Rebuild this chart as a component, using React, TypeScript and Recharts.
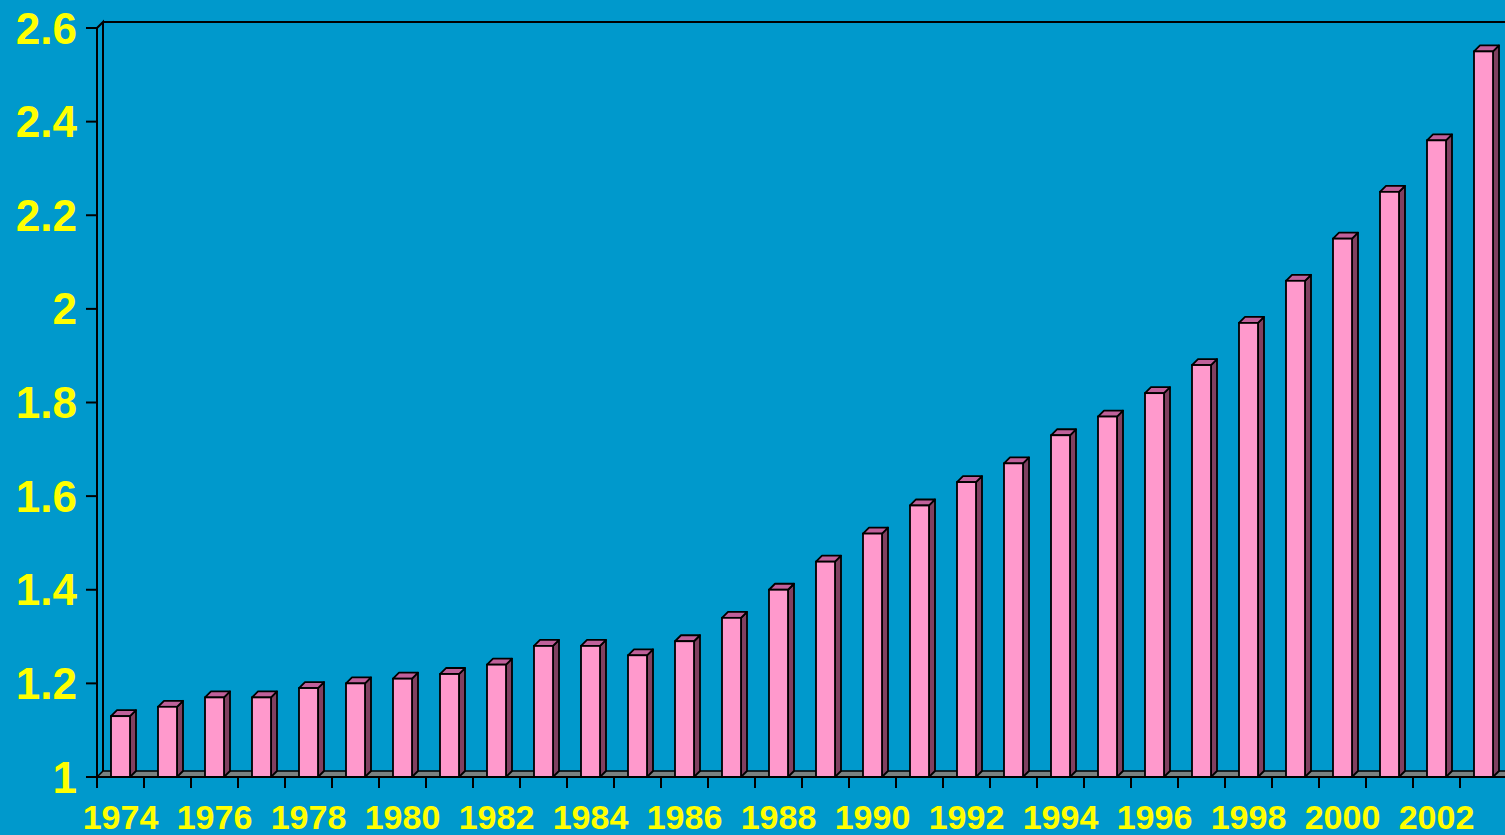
import React from "react";
import { BarChart, Bar, XAxis, YAxis, Customized } from "recharts";

const years = [
  "1974", "1975", "1976", "1977", "1978", "1979", "1980", "1981", "1982", "1983",
  "1984", "1985", "1986", "1987", "1988", "1989", "1990", "1991", "1992", "1993",
  "1994", "1995", "1996", "1997", "1998", "1999", "2000", "2001", "2002", "2003",
];
const values = [
  1.13, 1.15, 1.17, 1.17, 1.19, 1.2, 1.21, 1.22, 1.24, 1.28,
  1.28, 1.26, 1.29, 1.34, 1.4, 1.46, 1.52, 1.58, 1.63, 1.67,
  1.73, 1.77, 1.82, 1.88, 1.97, 2.06, 2.15, 2.25, 2.36, 2.55,
];
const yTicks = [1, 1.2, 1.4, 1.6, 1.8, 2, 2.2, 2.4, 2.6];

const data = years.map((year, i) => ({ year, value: values[i] }));

const BG = "#0099CC";
const FONT = "'Liberation Sans', Arial, sans-serif";
const DEPTH = 6;
const TICK = 11;

// chart frame
const W = 1512;
const H = 835;
const M = { top: 28, right: 5, left: 0, bottom: 0 };
const Y_AXIS_W = 97;
const X_AXIS_H = 58;
const plot = {
  left: M.left + Y_AXIS_W,
  right: W - M.right,
  top: M.top,
  bottom: H - X_AXIS_H,
};
const step = (plot.right - plot.left) / years.length;

// back wall + floor of the 3D box
function Box() {
  const d = DEPTH;
  return (
    <g>
      <polygon
        points={`${plot.left},${plot.bottom} ${plot.left + d},${plot.bottom - d} ${plot.right + d},${plot.bottom - d} ${plot.right},${plot.bottom}`}
        fill="#7a8282"
        stroke="#000"
        strokeWidth={1.5}
      />
      <polyline
        points={`${plot.left},${plot.top} ${plot.left + d},${plot.top - d} ${plot.left + d},${plot.bottom - d}`}
        fill="none"
        stroke="#000"
        strokeWidth={2}
      />
      <line x1={plot.left + d} y1={plot.top - d} x2={plot.right + d} y2={plot.top - d} stroke="#000" strokeWidth={2} />
    </g>
  );
}

function Bar3D(props: any) {
  const { x, y, width, height } = props;
  const d = DEPTH;
  if (height == null || height <= 0) return null;
  const top = `${x},${y} ${x + d},${y - d} ${x + width + d},${y - d} ${x + width},${y}`;
  const side = `${x + width},${y} ${x + width + d},${y - d} ${x + width + d},${y + height - d} ${x + width},${y + height}`;
  return (
    <g>
      <polygon points={side} fill="#804060" stroke="#000" strokeWidth={1.8} strokeLinejoin="round" />
      <polygon points={top} fill="#C0609A" stroke="#000" strokeWidth={1.8} strokeLinejoin="round" />
      <rect x={x} y={y} width={width} height={height} fill="#FF99CC" stroke="#000" strokeWidth={1.8} />
    </g>
  );
}

// tick mark on the left edge of each category, year label on every other one
function YearTick(props: any) {
  const { x, y, index, payload } = props;
  const edge = x - step / 2;
  return (
    <g>
      <line x1={edge} y1={plot.bottom} x2={edge} y2={plot.bottom + TICK} stroke="#000" strokeWidth={2} />
      {index % 2 === 0 && (
        <text
          x={x}
          y={y}
          dy="0.71em"
          textAnchor="middle"
          fill="#FFFF00"
          fontSize={34}
          fontWeight="bold"
          fontFamily={FONT}
        >
          {payload.value}
        </text>
      )}
    </g>
  );
}

export default function App() {
  return (
    <div
      style={{
        position: "fixed",
        left: 0,
        top: 0,
        width: 1505,
        height: 835,
        overflow: "hidden",
        background: BG,
      }}
    >
      <BarChart width={W} height={H} data={data} margin={M}>
        <Customized component={Box} />
        <XAxis
          dataKey="year"
          interval={0}
          height={X_AXIS_H}
          axisLine={{ stroke: "#000", strokeWidth: 2 }}
          tickLine={false}
          tickSize={TICK}
          tickMargin={17}
          tick={<YearTick />}
        />
        <YAxis
          width={Y_AXIS_W}
          domain={[1, 2.6]}
          ticks={yTicks}
          allowDataOverflow
          tickSize={TICK}
          tickMargin={9}
          axisLine={{ stroke: "#000", strokeWidth: 2 }}
          tickLine={{ stroke: "#000", strokeWidth: 2 }}
          tick={{ fill: "#FFFF00", fontSize: 44, fontWeight: "bold", fontFamily: FONT }}
        />
        <Bar
          dataKey="value"
          barSize={19}
          shape={<Bar3D />}
          isAnimationActive={false}
        />
      </BarChart>
    </div>
  );
}
